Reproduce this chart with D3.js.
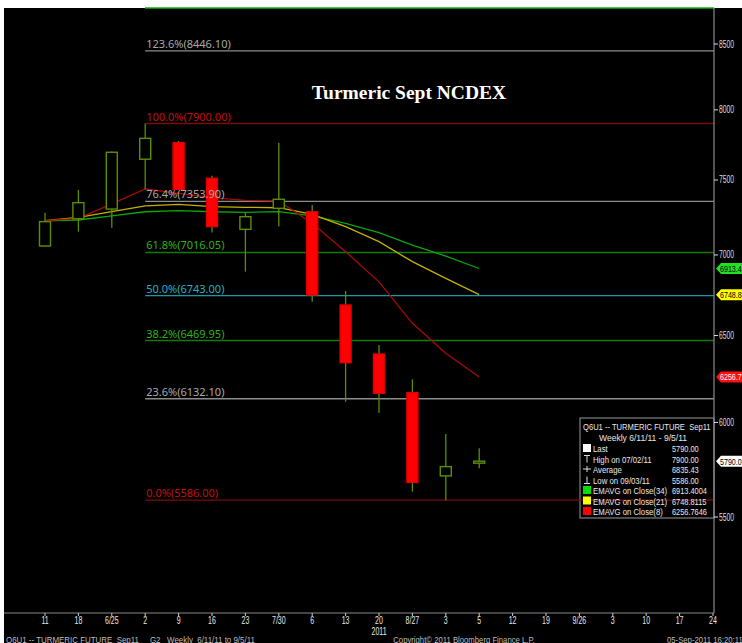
<!DOCTYPE html>
<html>
<head>
<meta charset="utf-8">
<script src="https://cdn.jsdelivr.net/npm/d3@7"></script>
<style>
  body { margin: 0; background: #fff; }
  svg { display: block; }
</style>
</head>
<body>
<div id="chart"></div>
<script>
// weekly labels along the bottom axis
var weeks = ["11","18","6/25","2","9","16","23","7/30","6","13","20","8/27","3","5","12","19","9/26","3","10","17","24"];

// weekly OHLC, 6/11/11 .. 9/5/11
var opens  = [7058, 7237, 7302, 7645, 7762, 7512, 7167, 7307, 7284, 6685, 6390, 6167, 5712, 5781];
var highs  = [7278, 7431, 7700, 7900, 7775, 7530, 7278, 7762, 7329, 6772, 6443, 6243, 5937, 5859];
var lows   = [7053, 7152, 7178, 7436, 7430, 7147, 6893, 7185, 6705, 6115, 6054, 5630, 5586, 5752];
var closes = [7218, 7345, 7694, 7793, 7436, 7185, 7251, 7368, 6747, 6339, 6163, 5678, 5761, 5790];

// moving averages
var ema34 = [7224, 7229, 7256, 7284, 7291, 7284, 7280, 7285, 7256, 7207, 7145, 7064, 6993, 6913.4];
var ema21 = [7224, 7247, 7285, 7323, 7334, 7318, 7314, 7311, 7267, 7185, 7086, 6957, 6851, 6748.8];
var ema8  = [7224, 7240, 7337, 7438, 7408, 7379, 7361, 7356, 7207, 7021, 6829, 6573, 6394, 6256.8];

// fibonacci retracement levels
var fibPct    = ["123.6%", "100.0%", "76.4%", "61.8%", "50.0%", "38.2%", "23.6%", "0.0%"];
var fibValues = [8446.10, 7900.00, 7353.90, 7016.05, 6743.00, 6469.95, 6132.10, 5586.00];
var fibText   = ["#a8a8a8", "#c01010", "#a8a8a8", "#2fb21a", "#22b4c4", "#2fb21a", "#a8a8a8", "#c01010"];
var fibLine   = ["#8c8c8c", "#7a0c0c", "#8c8c8c", "#127a06", "#1a98a8", "#127a06", "#8c8c8c", "#7a0c0c"];

var yTicks = [5500, 6000, 6500, 7000, 7500, 8000, 8500];

var legendRows = [
  ["Last", "5790.00", "box", "#ffffff"],
  ["High on 07/02/11", "7900.00", "high", null],
  ["Average", "6835.43", "avg", null],
  ["Low on 09/03/11", "5586.00", "low", null],
  ["EMAVG on Close(34)", "6913.4004", "box", "#00e000"],
  ["EMAVG on Close(21)", "6748.8115", "box", "#ffff00"],
  ["EMAVG on Close(8)", "6256.7646", "box", "#ff0000"]
];

var W = 742, H = 643;
var sans = '"Liberation Sans","DejaVu Sans",sans-serif';
var olive = "#5a8f00";

var svg = d3.select("#chart").append("svg")
  .attr("width", W)
  .attr("height", H);

// squeezed text, the terminal font is a narrow one
function ctext(parent, x, y, str, opts) {
  opts = opts || {};
  return parent.append("text")
    .attr("transform", "translate(" + x + "," + y + ") scale(" + (opts.sx || 0.75) + ",1)")
    .attr("text-anchor", opts.anchor || "start")
    .attr("xml:space", "preserve")
    .style("font-family", sans)
    .style("font-size", (opts.size || 9) + "px")
    .style("fill", opts.fill || "#e8e8e8")
    .text(str);
}

// black bloomberg panel
svg.append("rect")
  .attr("x", 4).attr("y", 8)
  .attr("width", W - 4).attr("height", H - 8)
  .style("fill", "#000");

var x = d3.scaleLinear().domain([0, 20]).range([45, 713]);
var y = d3.scaleLog().domain([5500, 8500]).range([517, 44]);

var axisX = 714, axisY = 613;

// green line along the top edge
svg.append("line")
  .attr("x1", 145).attr("x2", axisX)
  .attr("y1", 8).attr("y2", 8)
  .style("stroke", "#10b010").style("stroke-width", 1.5);

// title
svg.append("text")
  .attr("x", 409).attr("y", 99)
  .attr("text-anchor", "middle")
  .style("font-family", '"Liberation Serif","DejaVu Serif",serif')
  .style("font-weight", "bold")
  .style("font-size", "19.5px")
  .style("fill", "#fff")
  .text("Turmeric Sept NCDEX");

// legend box (drawn before the fib lines, the 0% line runs through it)
var lg = { x: 580, y: 418, w: 134, h: 100 };
svg.append("rect")
  .attr("x", lg.x).attr("y", lg.y)
  .attr("width", lg.w).attr("height", lg.h)
  .style("fill", "#000")
  .style("stroke", "#9a9a9a").style("stroke-width", 1);

// fibonacci lines
var fibX0 = x(3);
fibValues.forEach(function(v, i) {
  svg.append("line")
    .attr("x1", fibX0).attr("x2", axisX)
    .attr("y1", y(v)).attr("y2", y(v))
    .style("stroke", fibLine[i]).style("stroke-width", 1.4);
});

// moving averages
var emaLine = d3.line()
  .x(function(d, i) { return x(i); })
  .y(function(d) { return y(d); });
[[ema34, "#08a808"], [ema21, "#c4b000"], [ema8, "#a80a0a"]].forEach(function(s) {
  svg.append("path")
    .datum(s[0])
    .attr("d", emaLine)
    .style("fill", "none")
    .style("stroke", s[1])
    .style("stroke-width", 1.3);
});

// candles
var candles = opens.map(function(o, i) {
  return { i: i, o: o, h: highs[i], l: lows[i], c: closes[i] };
});
var cg = svg.append("g");
cg.selectAll("line.wick")
  .data(candles)
  .enter().append("line")
    .attr("class", "wick")
    .attr("x1", function(d) { return x(d.i); })
    .attr("x2", function(d) { return x(d.i); })
    .attr("y1", function(d) { return y(d.h); })
    .attr("y2", function(d) { return y(d.l); })
    .style("stroke", olive).style("stroke-width", 1.3);
var bw = 11;
cg.selectAll("rect.body")
  .data(candles)
  .enter().append("rect")
    .attr("class", "body")
    .attr("x", function(d) { return x(d.i) - bw / 2; })
    .attr("y", function(d) { return y(Math.max(d.o, d.c)); })
    .attr("width", bw)
    .attr("height", function(d) { return Math.max(2, y(Math.min(d.o, d.c)) - y(Math.max(d.o, d.c))); })
    .style("fill", function(d) { return d.c < d.o ? "#ff0000" : "#000"; })
    .style("stroke", function(d) { return d.c < d.o ? "#e00000" : olive; })
    .style("stroke-width", 1.4);

// fib labels sit on top of the candles
fibValues.forEach(function(v, i) {
  svg.append("text")
    .attr("x", fibX0 + 1).attr("y", y(v) - 3)
    .style("font-family", '"Noto Sans","Liberation Sans",sans-serif')
    .style("font-size", "11px")
    .style("fill", fibText[i])
    .text(fibPct[i] + "(" + v.toFixed(2) + ")");
});

// right axis
svg.append("line")
  .attr("x1", axisX).attr("x2", axisX)
  .attr("y1", 8).attr("y2", axisY)
  .style("stroke", "#8a8a8a").style("stroke-width", 1.2);
yTicks.forEach(function(t) {
  svg.append("line")
    .attr("x1", axisX).attr("x2", axisX + 4)
    .attr("y1", y(t)).attr("y2", y(t))
    .style("stroke", "#ddd");
  ctext(svg, axisX + 5, y(t) + 3.5, String(t), { sx: 0.68, size: 10, fill: "#ddd" });
});

// value tags at the right edge
var tags = [
  [ema34[13], "6913.4", "#22e022", "#000"],
  [ema21[13], "6748.8", "#ffff00", "#000"],
  [ema8[13], "6256.7", "#ff1010", "#fff"],
  [closes[13], "5790.0", "#ffffff", "#000"]
];
tags.forEach(function(t) {
  var ty = y(t[0]);
  svg.append("path")
    .attr("d", "M" + (axisX + 2) + "," + ty + "L" + (axisX + 7) + "," + (ty - 5.5) +
               "L" + W + "," + (ty - 5.5) + "L" + W + "," + (ty + 5.5) +
               "L" + (axisX + 7) + "," + (ty + 5.5) + "Z")
    .style("fill", t[2]);
  ctext(svg, axisX + 6, ty + 3.5, t[1], { sx: 0.75, size: 9.5, fill: t[3] });
});

// bottom axis
svg.append("line")
  .attr("x1", 4).attr("x2", axisX)
  .attr("y1", axisY).attr("y2", axisY)
  .style("stroke", "#8a8a8a").style("stroke-width", 1.2);
weeks.forEach(function(w, i) {
  svg.append("line")
    .attr("x1", x(i)).attr("x2", x(i))
    .attr("y1", axisY).attr("y2", axisY + 3)
    .style("stroke", "#ccc");
  ctext(svg, x(i), axisY + 11, w, { anchor: "middle", size: 10, sx: 0.7 });
});
ctext(svg, x(10), axisY + 22, "2011", { anchor: "middle", size: 10, sx: 0.7 });

// footer
ctext(svg, 6, 642.5, "Q6U1 -- TURMERIC FUTURE  Sep11     G2   Weekly  6/11/11 to 9/5/11", { sx: 0.88, fill: "#bdbdbd" });
ctext(svg, 464, 642.5, "Copyright\u00a9 2011 Bloomberg Finance L.P.", { sx: 0.86, anchor: "middle", fill: "#bdbdbd" });
ctext(svg, 667, 642.5, "05-Sep-2011 16:20:11", { sx: 0.86, fill: "#bdbdbd" });

// legend contents
var lt = svg.append("g");
ctext(lt, lg.x + 3, lg.y + 12, "Q6U1 -- TURMERIC FUTURE  Sep11", { sx: 0.8, size: 9.5 });
ctext(lt, lg.x + 19, lg.y + 23, "Weekly 6/11/11 - 9/5/11", { sx: 0.9, size: 9.5 });
legendRows.forEach(function(r, i) {
  var ry = lg.y + 34 + i * 10.5;
  if (r[2] === "box") {
    lt.append("rect")
      .attr("x", lg.x + 3).attr("y", ry - 8)
      .attr("width", 8).attr("height", 8)
      .style("fill", r[3]);
  } else if (r[2] === "high") {
    lt.append("path").attr("d", "M" + (lg.x + 4) + "," + (ry - 7) + "h6M" + (lg.x + 7) + "," + (ry - 7) + "v7")
      .style("stroke", "#ddd").style("fill", "none");
  } else if (r[2] === "low") {
    lt.append("path").attr("d", "M" + (lg.x + 4) + "," + (ry) + "h6M" + (lg.x + 7) + "," + (ry) + "v-7")
      .style("stroke", "#ddd").style("fill", "none");
  } else {
    lt.append("path").attr("d", "M" + (lg.x + 3) + "," + (ry - 4) + "h8M" + (lg.x + 7) + "," + (ry - 7) + "v6")
      .style("stroke", "#ddd").style("fill", "none");
  }
  ctext(lt, lg.x + 13, ry, r[0], { sx: 0.82, size: 9.5 });
  ctext(lt, lg.x + 92, ry, r[1], { sx: 0.78, size: 9.5 });
});
</script>
</body>
</html>
